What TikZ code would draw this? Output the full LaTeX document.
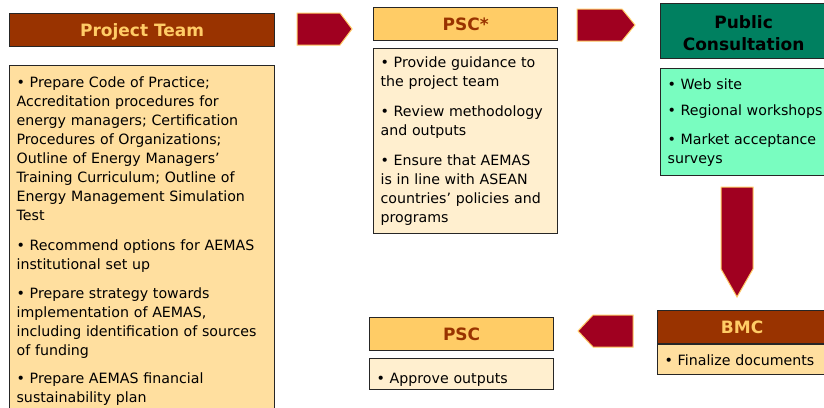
\documentclass[tikz,border=0pt]{standalone}
\usepackage{fontspec}
\setmainfont{DejaVu Sans}
\usetikzlibrary{positioning}
\definecolor{hdrbrown}{HTML}{993300}
\definecolor{hdrtext}{HTML}{FFCC66}
\definecolor{amber}{HTML}{FFCC66}
\definecolor{ptfill}{HTML}{FFDF9F}
\definecolor{cream}{HTML}{FFEFCF}
\definecolor{pcgreen}{HTML}{008060}
\definecolor{mint}{HTML}{79FDC0}
\definecolor{arrowred}{HTML}{A00020}

\begin{document}
\begin{tikzpicture}[
        x=1pt, y=-1pt,
        node distance=18pt,
        head/.style={
            rectangle,
            draw=black!85,
            line width=1.2pt,
            inner sep=0pt,
            minimum height=33pt,
            text height=13pt,
            text depth=0pt,
            font=\bfseries\fontsize{17}{22}\selectfont
        },
        brownhead/.style={head, fill=hdrbrown, text=hdrtext},
        amberhead/.style={head, fill=amber, text=hdrbrown},
        body/.style={
            rectangle,
            draw=black!85,
            line width=1.2pt,
            align=left,
            inner xsep=7pt,
            inner ysep=8pt,
            font=\fontsize{14.2}{19}\selectfont
        },
        blockarrow/.style={fill=arrowred, draw=hdrtext, line width=1pt}
    ]
    \clip (0,0) rectangle (824,407);

    % --- PROJECT TEAM ---
    \node (ptHead) [brownhead, minimum width=265pt, anchor=north west] at (9,13) {Project Team};
    \node (ptBody) [body, fill=ptfill, text width=251pt, inner ysep=11pt, below=18pt of ptHead] {
        • Prepare Code of Practice;\\
        Accreditation procedures for\\
        energy managers; Certification\\
        Procedures of Organizations;\\
        Outline of Energy Managers’\\
        Training Curriculum; Outline of\\
        Energy Management Simulation\\
        Test\\[11pt]
        • Recommend options for AEMAS\\
        institutional set up\\[10pt]
        • Prepare strategy towards\\
        implementation of AEMAS,\\
        including identification of sources\\
        of funding\\[9pt]
        • Prepare AEMAS financial\\
        sustainability plan\\[20pt]
        ~
    };

    % --- PSC* ---
    \node (pscHead) [amberhead, minimum width=184pt, anchor=north west] at (373,7) {PSC*};
    \node (pscBody) [body, fill=cream, text width=170pt, minimum height=184pt, below=7pt of pscHead] {
        • Provide guidance to\\
        the project team\\[11pt]
        • Review methodology\\
        and outputs\\[11pt]
        • Ensure that AEMAS\\
        is in line with ASEAN\\
        countries’ policies and\\
        programs
    };

    % --- PUBLIC CONSULTATION ---
    \node (pcHead) [head, fill=pcgreen, text=black, align=center, minimum width=166pt, minimum height=55pt, text height=39pt, anchor=north west] at (660,3) {Public\\Consultation};
    \node (pcBody) [body, fill=mint, text width=162pt, minimum height=107pt, below=9pt of pcHead.south west, anchor=north west] {
        • Web site\\[7pt]
        • Regional workshops\\[10pt]
        • Market acceptance\\
        surveys
    };

    % --- BMC ---
    \node (bmcHead) [brownhead, minimum width=169pt, anchor=north west] at (657,310) {BMC};
    \node (bmcBody) [body, fill=ptfill, text width=155pt, minimum height=30pt, inner ysep=2pt, below=0pt of bmcHead] {• Finalize documents};

    % --- PSC ---
    \node (psc2Head) [amberhead, minimum width=184pt, anchor=north west] at (369,317) {PSC};
    \node (psc2Body) [body, fill=cream, text width=170pt, minimum height=31pt, inner ysep=2pt, text height=20pt, text depth=1pt, below=7pt of psc2Head] {• Approve outputs};

    % --- BLOCK ARROWS ---
    \draw [blockarrow] (297,13) -- (340,13) -- (352,29) -- (340,45) -- (297,45) -- cycle;
    \draw [blockarrow] (577,9) -- (622,9) -- (635,25) -- (622,41) -- (577,41) -- cycle;
    \draw [blockarrow] (721,187) -- (753,187) -- (753,269) -- (737,297) -- (721,269) -- cycle;
    \draw [blockarrow] (633,315) -- (593,315) -- (578,331) -- (593,347) -- (633,347) -- cycle;

\end{tikzpicture}
\end{document}
